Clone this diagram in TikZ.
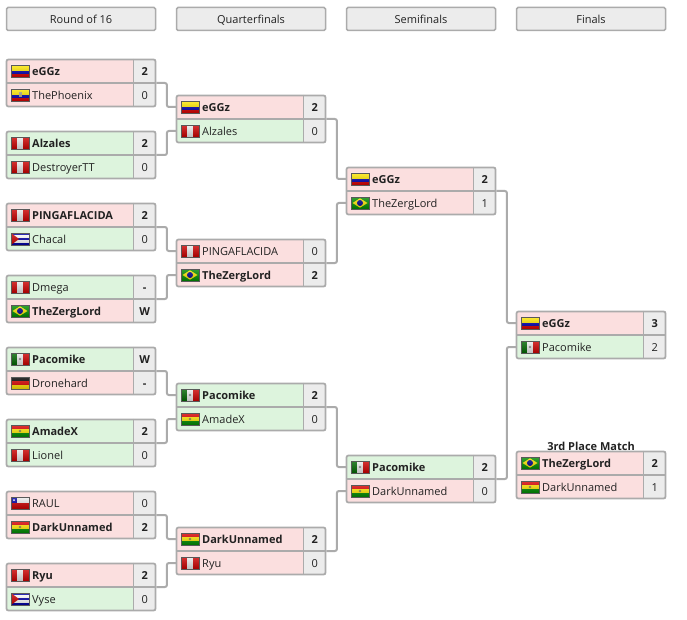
\documentclass[tikz,border=0pt]{standalone}
\usepackage{fontspec}
\setmainfont{Open Sans}
\definecolor{colpink}{HTML}{FBDFDF}
\definecolor{colgreen}{HTML}{DDF4DD}
\definecolor{colcell}{HTML}{ECECEC}
\definecolor{colline}{HTML}{ABABAB}
\definecolor{coltext}{HTML}{222222}
\tikzset{
  rowcell/.style={inner sep=0pt,minimum width=127pt,minimum height=24pt,anchor=west},
  scorecell/.style={inner sep=0pt,minimum width=22pt,minimum height=24pt,anchor=west,fill=colcell,text=coltext,text height=9pt,text depth=.3pt,font=\fontsize{11}{13}\selectfont},
  nametext/.style={inner sep=0pt,anchor=west,text=coltext,text height=9pt,text depth=.3pt,font=\fontsize{11}{13}\selectfont},
  matchbox/.style={draw=colline,line width=1.8pt,rounded corners=2pt,inner sep=0pt,minimum width=149pt,minimum height=47pt},
  headbox/.style={draw=colline,line width=1.5pt,rounded corners=1.5pt,fill=colcell,inner sep=0pt,minimum width=149pt,minimum height=23pt,text=coltext,text height=9pt,text depth=.3pt,font=\fontsize{11}{13}\selectfont},
  link/.style={draw=colline,line width=2pt,rounded corners=2pt},
  flagedge/.style={draw=black!65,line width=.5pt}
}
\newcommand{\flagco}{
  \fill[yellow!90!orange] (0,0) rectangle (18,6);
  \fill[blue!70!black] (0,6) rectangle (18,9);
  \fill[red!85!black] (0,9) rectangle (18,12);
}
\newcommand{\flagec}{
  \flagco
  \fill[gray!80!yellow] (7.5,3.5) rectangle (10.5,8);
}
\newcommand{\flagpe}{
  \fill[red!80!black] (0,0) rectangle (18,12);
  \fill[black!8] (6,0) rectangle (12,12);
}
\newcommand{\flagcu}{
  \fill[blue!65!black] (0,0) rectangle (18,12);
  \fill[white] (0,2.4) rectangle (18,4.8);
  \fill[white] (0,7.2) rectangle (18,9.6);
  \fill[red!80!black] (0,0) -- (8,6) -- (0,12) -- cycle;
}
\newcommand{\flagbr}{
  \fill[green!55!black] (0,0) rectangle (18,12);
  \fill[yellow!90!orange] (9,1.3) -- (16.5,6) -- (9,10.7) -- (1.5,6) -- cycle;
  \fill[blue!55!black] (9,6) circle (3);
}
\newcommand{\flagmx}{
  \fill[green!40!black] (0,0) rectangle (6,12);
  \fill[black!7] (6,0) rectangle (12,12);
  \fill[red!80!black] (12,0) rectangle (18,12);
  \fill[black!45] (9,6) circle (1.3);
}
\newcommand{\flagde}{
  \fill[black] (0,0) rectangle (18,4);
  \fill[red!85!black] (0,4) rectangle (18,8);
  \fill[yellow!85!orange] (0,8) rectangle (18,12);
}
\newcommand{\flagbo}{
  \fill[red!85!black] (0,0) rectangle (18,4);
  \fill[yellow!90!orange] (0,4) rectangle (18,8);
  \fill[green!55!black] (0,8) rectangle (18,12);
  \fill[black!55!yellow] (9,6) circle (1.4);
}
\newcommand{\flagcl}{
  \fill[black!7] (0,0) rectangle (18,6);
  \fill[red!80!black] (0,6) rectangle (18,12);
  \fill[blue!65!black] (0,0) rectangle (6,6);
  \fill[white] (3,3) circle (1);
}
\newcommand{\player}[7]{
  \node[rowcell,fill=#4] (#1) at (#2,#3) {};
  \node[scorecell] (#1s) at (#2+127,#3) {#7};
  \begin{scope}[shift={(#2+4.5,#3-6)}]
    \csname flag#5\endcsname
    \shade[top color=white,bottom color=black,opacity=.2] (0,0) rectangle (18,12);
    \draw[flagedge] (0,0) rectangle (18,12);
  \end{scope}
  \node[nametext] (#1t) at (#2+25.5,#3) {#6};
}
\newcommand{\match}[3]{
  \node[matchbox] (#1) at (#2,#3) {};
  \draw[colline,line width=1.8pt] (#1.west) -- (#1.east);
  \draw[colline,line width=1.5pt] ([xshift=-22.9pt]#1.north east) -- ([xshift=-22.9pt]#1.south east);
}
\begin{document}
\begin{tikzpicture}[x=1pt,y=-1pt]
\useasboundingbox (0,0) rectangle (687,620);

\node[headbox] (h1) at (81,19) {Round of 16};
\node[headbox] (h2) at (251,19) {Quarterfinals};
\node[headbox] (h3) at (421,19) {Semifinals};
\node[headbox] (h4) at (591,19) {Finals};

\player{r1a}{6.5}{71}{colpink}{co}{\textbf{eGGz}}{\textbf{2}}
\player{r1b}{6.5}{95}{colpink}{ec}{ThePhoenix}{0}
\player{r2a}{6.5}{143}{colgreen}{pe}{\textbf{Alzales}}{\textbf{2}}
\player{r2b}{6.5}{167}{colgreen}{pe}{DestroyerTT}{0}
\player{r3a}{6.5}{215}{colpink}{pe}{\textbf{PINGAFLACIDA}}{\textbf{2}}
\player{r3b}{6.5}{239}{colgreen}{cu}{Chacal}{0}
\player{r4a}{6.5}{287}{colgreen}{pe}{Dmega}{\textbf{-}}
\player{r4b}{6.5}{311}{colpink}{br}{\textbf{TheZergLord}}{\textbf{W}}
\player{r5a}{6.5}{359}{colgreen}{mx}{\textbf{Pacomike}}{\textbf{W}}
\player{r5b}{6.5}{383}{colpink}{de}{Dronehard}{\textbf{-}}
\player{r6a}{6.5}{431}{colgreen}{bo}{\textbf{AmadeX}}{\textbf{2}}
\player{r6b}{6.5}{455}{colgreen}{pe}{Lionel}{0}
\player{r7a}{6.5}{503}{colpink}{cl}{RAUL}{0}
\player{r7b}{6.5}{527}{colpink}{bo}{\textbf{DarkUnnamed}}{\textbf{2}}
\player{r8a}{6.5}{575}{colpink}{pe}{\textbf{Ryu}}{\textbf{2}}
\player{r8b}{6.5}{599}{colgreen}{cu}{Vyse}{0}

\player{q1a}{176.5}{107}{colpink}{co}{\textbf{eGGz}}{\textbf{2}}
\player{q1b}{176.5}{131}{colgreen}{pe}{Alzales}{0}
\player{q2a}{176.5}{251}{colpink}{pe}{PINGAFLACIDA}{0}
\player{q2b}{176.5}{275}{colpink}{br}{\textbf{TheZergLord}}{\textbf{2}}
\player{q3a}{176.5}{395}{colgreen}{mx}{\textbf{Pacomike}}{\textbf{2}}
\player{q3b}{176.5}{419}{colgreen}{bo}{AmadeX}{0}
\player{q4a}{176.5}{539}{colpink}{bo}{\textbf{DarkUnnamed}}{\textbf{2}}
\player{q4b}{176.5}{563}{colpink}{pe}{Ryu}{0}

\player{s1a}{346.5}{179}{colpink}{co}{\textbf{eGGz}}{\textbf{2}}
\player{s1b}{346.5}{203}{colpink}{br}{TheZergLord}{1}
\player{s2a}{346.5}{467}{colgreen}{mx}{\textbf{Pacomike}}{\textbf{2}}
\player{s2b}{346.5}{491}{colpink}{bo}{DarkUnnamed}{0}

\player{f1a}{516.5}{323}{colpink}{co}{\textbf{eGGz}}{\textbf{3}}
\player{f1b}{516.5}{347}{colgreen}{mx}{Pacomike}{2}
\player{t1a}{516.5}{463}{colpink}{br}{\textbf{TheZergLord}}{\textbf{2}}
\player{t1b}{516.5}{487}{colpink}{bo}{DarkUnnamed}{1}

\match{r1}{81}{83}
\match{r2}{81}{155}
\match{r3}{81}{227}
\match{r4}{81}{299}
\match{r5}{81}{371}
\match{r6}{81}{443}
\match{r7}{81}{515}
\match{r8}{81}{587}
\match{q1}{251}{119}
\match{q2}{251}{263}
\match{q3}{251}{407}
\match{q4}{251}{551}
\match{s1}{421}{191}
\match{s2}{421}{479}
\match{f1}{591}{335}
\match{t1}{591}{475}

\node[inner sep=0pt,text=coltext,text height=9pt,text depth=.3pt,font=\fontsize{11}{13}\selectfont\bfseries] (t0) at (591,446) {3rd Place Match};

\draw[link] (r1.east) -- ++(10.5,0) |- (q1a.west);
\draw[link] (r2.east) -- ++(10.5,0) |- (q1b.west);
\draw[link] (r3.east) -- ++(10.5,0) |- (q2a.west);
\draw[link] (r4.east) -- ++(10.5,0) |- (q2b.west);
\draw[link] (r5.east) -- ++(10.5,0) |- (q3a.west);
\draw[link] (r6.east) -- ++(10.5,0) |- (q3b.west);
\draw[link] (r7.east) -- ++(10.5,0) |- (q4a.west);
\draw[link] (r8.east) -- ++(10.5,0) |- (q4b.west);
\draw[link] (q1.east) -- ++(10.5,0) |- (s1a.west);
\draw[link] (q2.east) -- ++(10.5,0) |- (s1b.west);
\draw[link] (q3.east) -- ++(10.5,0) |- (s2a.west);
\draw[link] (q4.east) -- ++(10.5,0) |- (s2b.west);
\draw[link] (s1.east) -- ++(10.5,0) |- (f1a.west);
\draw[link] (s2.east) -- ++(10.5,0) |- (f1b.west);
\end{tikzpicture}
\end{document}
